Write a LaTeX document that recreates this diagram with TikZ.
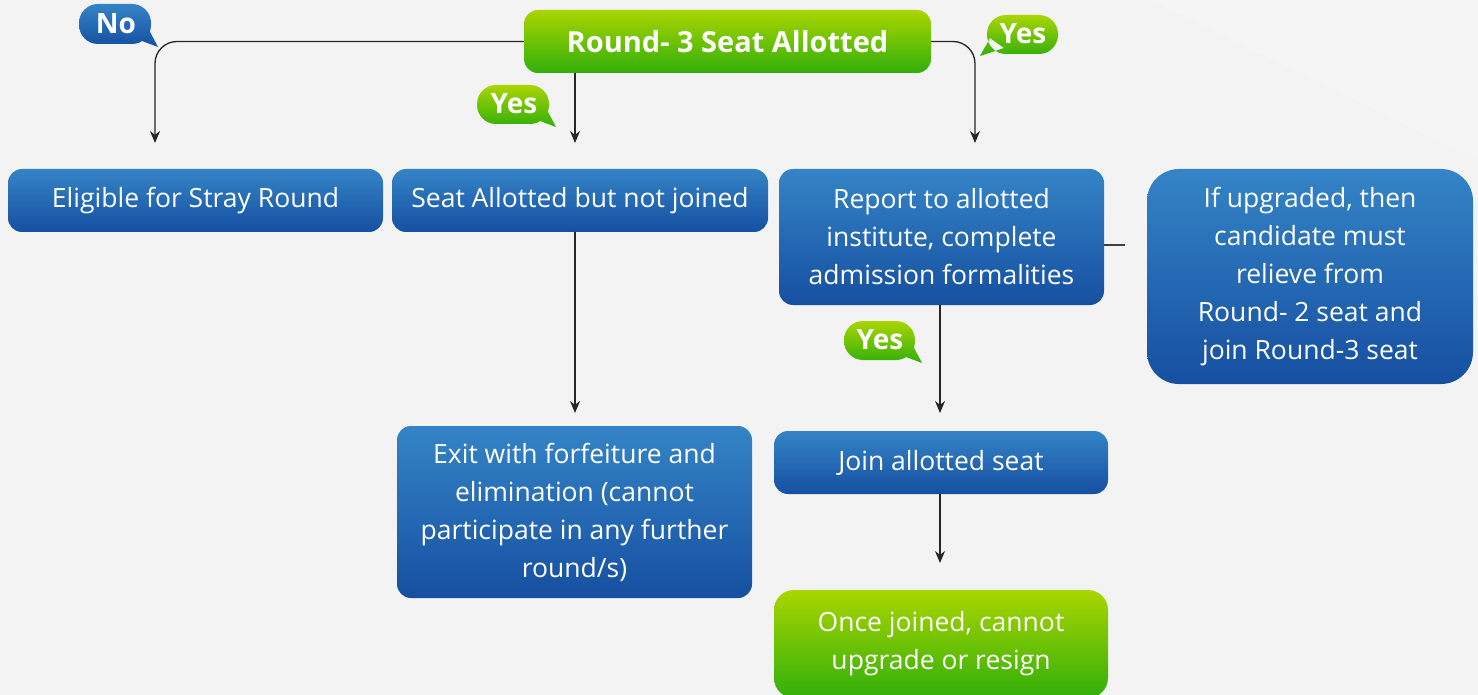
\documentclass[tikz,border=0pt]{standalone}
\usepackage{fontspec}
\setmainfont{Open Sans}
\usetikzlibrary{arrows.meta}
\definecolor{bgc}{HTML}{F3F3F3}
\definecolor{blueT}{HTML}{3484C6}
\definecolor{blueB}{HTML}{164FA1}
\definecolor{greenT}{HTML}{AAD500}
\definecolor{greenB}{HTML}{31AF0A}
\tikzset{
  x=1pt,y=-1pt,
  bluebox/.style={rounded corners=14pt, top color=blueT, bottom color=blueB, text=white, align=center, inner sep=0pt, font=\fontsize{26.5}{38}\selectfont},
  greenbox/.style={rounded corners=14pt, top color=greenT, bottom color=greenB, text=white, align=center, inner sep=0pt, font=\fontsize{26.5}{38}\selectfont},
  bubtext/.style={text=white, font=\fontsize{28}{32}\selectfont\bfseries, inner sep=0pt},
  arr/.style={draw=black!85, line width=1.3pt, -{Stealth[length=12pt,width=10pt]}},
  conn/.style={draw=black!85, line width=1.3pt, rounded corners=22pt},
}
\begin{document}
\begin{tikzpicture}
\fill[bgc] (0,0) rectangle (1478,695);
\useasboundingbox (0,0) rectangle (1478,695);
\fill[white,opacity=0.18] (1150,0) -- (1478,0) -- (1478,160) -- cycle;
\fill[white,opacity=0.15] (0,480) -- (300,695) -- (0,695) -- cycle;

% boxes
\node[greenbox, minimum width=407pt, minimum height=63pt, font=\fontsize{29}{34}\selectfont\bfseries] (top) at (727.5,41.5) {Round- 3 Seat Allotted};
\node[bluebox, minimum width=375pt, minimum height=63pt] (elig) at (195.5,200.5) {Eligible for Stray Round};
\node[bluebox, minimum width=376pt, minimum height=63pt] (seat) at (580,200.5) {Seat Allotted but not joined};
\node[bluebox, minimum width=325pt, minimum height=136pt] (report) at (941.5,237) {Report to allotted\\institute, complete\\admission formalities};
\node[bluebox, rounded corners=32pt, minimum width=326pt, minimum height=215pt] (upg) at (1310,276.5) {If upgraded, then\\candidate must\\relieve from\\Round- 2 seat and\\join Round-3 seat};
\node[bluebox, minimum width=355pt, minimum height=172pt] (exit) at (574.5,512) {Exit with forfeiture and\\elimination (cannot\\participate in any further\\round/s)};
\node[bluebox, minimum width=334pt, minimum height=63pt] (join) at (941,462.5) {Join allotted seat};
\node[greenbox, rounded corners=20pt, minimum width=334pt, minimum height=108pt] (once) at (941,644) {Once joined, cannot\\upgrade or resign};

% connector coordinates
\coordinate (a1) at (155,143);
\coordinate (b0) at (575,73);
\coordinate (b1) at (575,143);
\coordinate (c1) at (975,143);
\coordinate (d0) at (575,232);
\coordinate (d1) at (575,413);
\coordinate (e0) at (940,305);
\coordinate (e1) at (940,413);
\coordinate (f0) at (940,494);
\coordinate (f1) at (940,563);
\coordinate (g0) at (1104,245);
\coordinate (g1) at (1125,245);

\draw[conn, arr] (top.west) -| (a1);
\draw[arr] (b0) -- (b1);
\draw[conn, arr] (top.east) -| (c1);
\draw[arr] (d0) -- (d1);
\draw[arr] (e0) -- (e1);
\draw[arr] (f0) -- (f1);
\draw[draw=black!75, line width=1.3pt] (g0) -- (g1);

% bubbles
\shade[top color=blueT, bottom color=blueB] [rounded corners=19pt] (79,4) rectangle (151,44) [sharp corners] (134,38) -- (158,47) -- (148,28) -- cycle;
\node[bubtext] (no) at (116,24) {No};
\shade[top color=greenT, bottom color=greenB] [rounded corners=19pt] (477,85) rectangle (549,124) [sharp corners] (532,118) -- (556,127) -- (546,108) -- cycle;
\node[bubtext] (yes1) at (514,104) {Yes};
\shade[top color=greenT, bottom color=greenB] [rounded corners=19pt] (987,15) rectangle (1058,54) [sharp corners] (1004,48) -- (980,56) -- (990,38) -- cycle;
\node[bubtext] (yes2) at (1023,34) {Yes};
\shade[top color=greenT, bottom color=greenB] [rounded corners=19pt] (844,321) rectangle (915,360) [sharp corners] (898,354) -- (922,363) -- (912,344) -- cycle;
\node[bubtext] (yes3) at (880,340) {Yes};
\end{tikzpicture}
\end{document}
